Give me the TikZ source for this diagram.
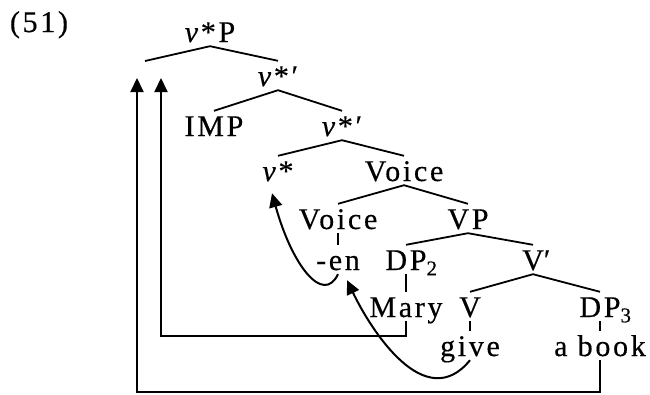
\documentclass[tikz,border=0pt]{standalone}
\usepackage{fontspec}
\setmainfont{Liberation Serif}[LetterSpace=9, FakeBold=0.4]
\usetikzlibrary{arrows.meta,calc}

\begin{document}
\begin{tikzpicture}[
    x=1pt, y=-1pt,
    font=\fontsize{30}{36}\selectfont,
    % Styles
    lbl/.style={anchor=base, inner sep=4pt, text height=21pt, text depth=0pt},
    branch/.style={line width=1.8pt},
    move/.style={-{Triangle[length=14pt,width=13pt]}, line width=2pt}
]
    \useasboundingbox (0,0) rectangle (650,394);

    % Example number
    \node (num) [lbl] at (39,32) {(51)};

    % Tree labels, row by row
    \node (vP) [lbl] at (210,42) {\textit{v}*P};
    \coordinate (spec) at (145,61);
    \node (vbar1) [lbl] at (278,86) {\textit{v}*′};
    \node (imp) [lbl] at (214,136) {IMP};
    \node (vbar2) [lbl] at (342,136) {\textit{v}*′};
    \node (vstar) [lbl] at (278,181) {\textit{v}*};
    \node (voice) [lbl] at (404,181) {Voice};
    \node (voicehd) [lbl] at (338,229) {Voice};
    \node (vp) [lbl] at (468,229) {VP};
    \node (en) [lbl] at (338,270) {-en};
    \node (dp2) [lbl] at (406,270) {DP\rlap{\textsubscript{2}}};
    \node (vbar) [lbl] at (533,270) {V\rlap{′}};
    \node (mary) [lbl] at (406,317) {Mary};
    \node (vhd) [lbl] at (470,317) {V};
    \node (dp3) [lbl] at (600,317) {DP\rlap{\textsubscript{3}}};
    \node (give) [lbl] at (470,356) {give};
    \node (book) [lbl] at (600,356) {a book};

    % Branches
    \draw [branch] (spec) -- (vP.south) -- (vbar1.north);
    \draw [branch] (imp.north) -- (vbar1.south) -- (vbar2.north);
    \draw [branch] (vstar.north) -- (vbar2.south) -- (voice.north);
    \draw [branch] (voicehd.north) -- (voice.south) -- (vp.north);
    \draw [branch] (dp2.north) -- (vp.south) -- (vbar.north);
    \draw [branch] (vhd.north) -- (vbar.south) -- (dp3.north);
    \draw [branch] (voicehd.south) -- (en.north);
    \draw [branch] (dp2.south) -- (mary.north);
    \draw [branch] (vhd.south) -- (give.north);
    \draw [branch] (dp3.south) -- (book.north);

    % Movement arrows
    \coordinate (tip1) at (161,78);
    \coordinate (tip2) at (137,78);
    \draw [move] (mary.south) -- ++(0,15) -| (tip1);
    \draw [move] (book.south) -- ++(0,32) -| (tip2);
    \draw [move] (en.south) .. controls +(-15,31) and +(20,72) .. ($(vstar.south)+(-6,8)$);
    \draw [move] (give.south) .. controls +(-45,55) and +(24,50) .. ($(en.south)+(9,6)$);

\end{tikzpicture}
\end{document}
